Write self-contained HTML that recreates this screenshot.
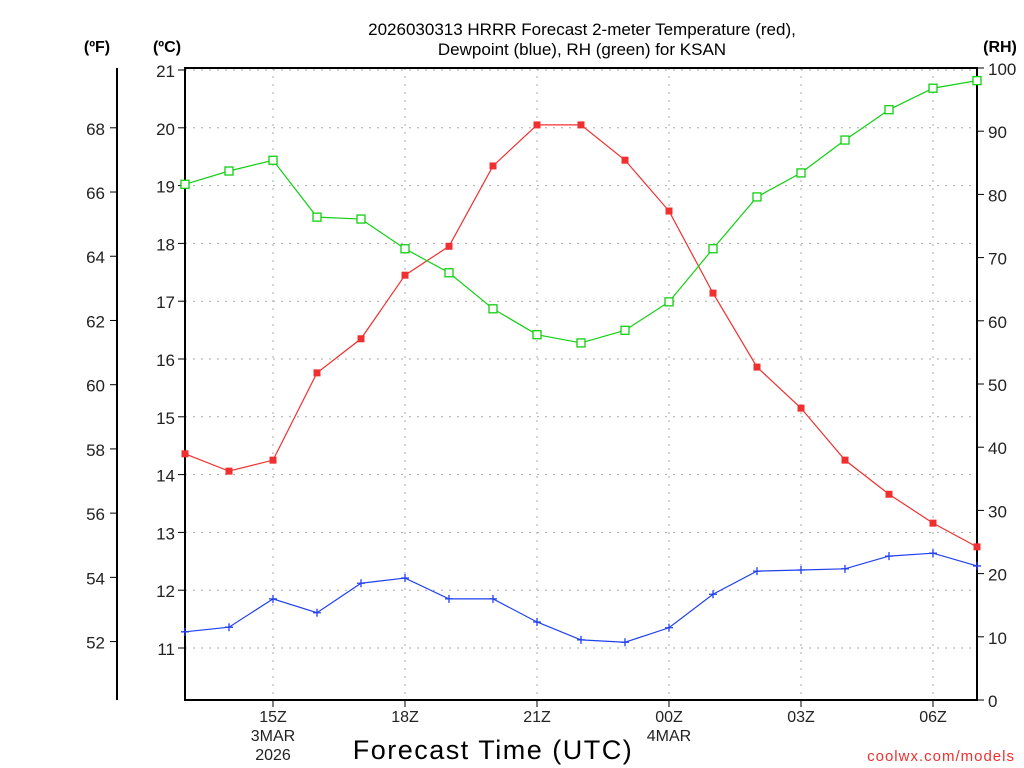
<!DOCTYPE html>
<html><head><meta charset="utf-8"><style>
body{margin:0;background:#fff}
svg{display:block;font-family:"Liberation Sans",sans-serif}
</style></head><body>
<svg id="chart" width="1024" height="768" xmlns="http://www.w3.org/2000/svg">
<g id="grid"></g>
<g id="axes"></g>
<g id="series"></g>
<text x="582" y="35" text-anchor="middle" font-size="17">2026030313 HRRR Forecast 2-meter Temperature (red),</text>
<text x="582" y="55" text-anchor="middle" font-size="17">Dewpoint (blue), RH (green) for KSAN</text>
<text x="97" y="52" text-anchor="middle" font-size="16" font-weight="bold">(ºF)</text>
<text x="167" y="52" text-anchor="middle" font-size="16" font-weight="bold">(ºC)</text>
<text x="1000" y="52" text-anchor="middle" font-size="16" font-weight="bold">(RH)</text>
<text x="493" y="759" text-anchor="middle" font-size="27" letter-spacing="1.5">Forecast Time (UTC)</text>
<text x="1015" y="761" text-anchor="end" font-size="15" fill="#f03030" letter-spacing="1">coolwx.com/models</text>
</svg>
<script>
const hours=[13,14,15,16,17,18,19,20,21,22,23,24,25,26,27,28,29,30,31];
const tempC=[14.36,14.06,14.25,15.76,16.35,17.45,17.95,19.34,20.05,20.05,19.44,18.56,17.14,15.86,15.15,14.25,13.66,13.16,12.75];
const dewC=[11.28,11.36,11.85,11.61,12.12,12.21,11.85,11.85,11.45,11.14,11.10,11.35,11.93,12.33,12.35,12.37,12.59,12.64,12.42];
const rh=[81.6,83.7,85.4,76.4,76.1,71.4,67.6,61.9,57.8,56.5,58.5,63.0,71.4,79.6,83.4,88.6,93.4,96.8,98.0];
const cTicks=[11,12,13,14,15,16,17,18,19,20,21];
const fTicks=[52,54,56,58,60,62,64,66,68];
const rhTicks=[0,10,20,30,40,50,60,70,80,90,100];
const xTickHours=[15,18,21,24,27,30];
const xTickLabels=["15Z","18Z","21Z","00Z","03Z","06Z"];
const NS="http://www.w3.org/2000/svg";
const L=185,R=977,T=68,B=700;
const xs=h=>L+(h-13)*(R-L)/18;
const yC=c=>70+(21-c)*57.8;
const yF=f=>yC((f-32)/1.8);
const yR=r=>B-r*(B-T)/100;
function mk(tag,attrs,parent){const e=document.createElementNS(NS,tag);for(const k in attrs)e.setAttribute(k,attrs[k]);parent.appendChild(e);return e;}
const grid=document.getElementById('grid'),axes=document.getElementById('axes'),series=document.getElementById('series');
cTicks.forEach(c=>{const y=yC(c);
 const g=mk('line',{x1:L,x2:R,y1:y,y2:y,stroke:'#aaa','stroke-dasharray':'2 6'},grid);
 
 
 mk('line',{x1:L-7,x2:L,y1:y,y2:y,stroke:'#000'},axes);
 const t=mk('text',{x:L-10,y:y+7,'text-anchor':'end','font-size':'17',fill:'#222'},axes);t.textContent=c;
 
 
});
xTickHours.forEach((h,i)=>{const x=xs(h);
 const g=mk('line',{x1:x,x2:x,y1:T,y2:B,stroke:'#aaa','stroke-dasharray':'2 6'},grid);
 
 
 mk('line',{x1:x,x2:x,y1:B,y2:B+7,stroke:'#000'},axes);
 const t=mk('text',{x:x,y:722,'text-anchor':'middle','font-size':'16',fill:'#222'},axes);t.textContent=xTickLabels[i];
 
 
});
[["3MAR",15,741],["2026",15,760],["4MAR",24,741]].forEach(d=>{const t=mk('text',{x:xs(d[1]),y:d[2],'text-anchor':'middle','font-size':'16',fill:'#222'},axes);t.textContent=d[0];
 
 });
mk('line',{x1:117,x2:117,y1:T,y2:B,stroke:'#000','stroke-width':2},axes);
fTicks.forEach(f=>{const y=yF(f);
 mk('line',{x1:110,x2:117,y1:y,y2:y,stroke:'#000'},axes);
 const t=mk('text',{x:105,y:y+7,'text-anchor':'end','font-size':'17',fill:'#222'},axes);t.textContent=f;
 
 });
rhTicks.forEach(r=>{const y=yR(r);
 mk('line',{x1:R,x2:R+7,y1:y,y2:y,stroke:'#000'},axes);
 const t=mk('text',{x:988,y:y+7,'font-size':'17',fill:'#222'},axes);t.textContent=r;
 
 });
const fr=mk('rect',{x:L,y:T,width:R-L,height:B-T,fill:'none',stroke:'#000','stroke-width':2},axes);


function line(vals,yf,color,name){
 const pts=vals.map((v,i)=>xs(hours[i])+','+yf(v)).join(' ');
 const p=mk('polyline',{points:pts,fill:'none',stroke:color,'stroke-width':1.2},series);
 
 
}
line(tempC,yC,'#f03030','temperature');
line(dewC,yC,'#2040f0','dewpoint');
line(rh,yR,'#10d010','rh');
tempC.forEach((v,i)=>{const m=mk('rect',{x:xs(hours[i])-3.5,y:yC(v)-3.5,width:7,height:7,fill:'#f03030'},series);
 
 });
dewC.forEach((v,i)=>{const x=xs(hours[i]),y=yC(v);const m=mk('path',{d:`M${x-4} ${y}H${x+4}M${x} ${y-4}V${y+4}`,stroke:'#2040f0','stroke-width':1.3},series);
 
 });
rh.forEach((v,i)=>{const m=mk('rect',{x:xs(hours[i])-4,y:yR(v)-4,width:8,height:8,fill:'#fff',stroke:'#10d010','stroke-width':1.3},series);
 
 });
</script>
</body></html>
